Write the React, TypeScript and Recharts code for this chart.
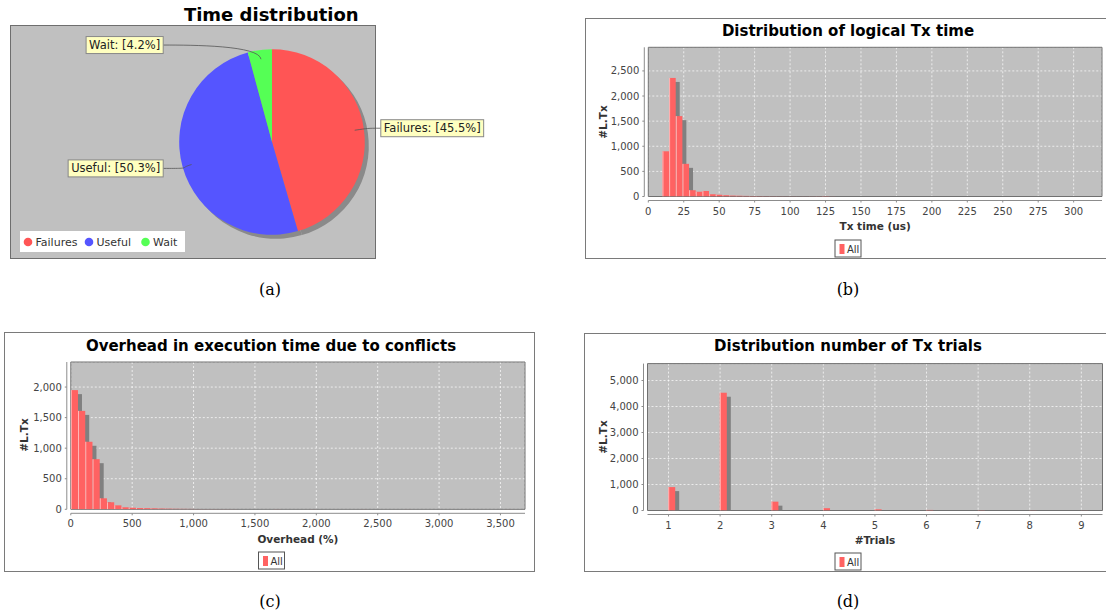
import React from "react";
import {
  Bar,
  BarChart,
  CartesianGrid,
  Cell,
  Pie,
  PieChart,
  ReferenceArea,
  XAxis,
  YAxis,
} from "recharts";

// (a) time distribution
const timeNames = ["Failures", "Useful", "Wait"];
const timeShares = [45.5, 50.3, 4.2];
const timeColors = ["#ff5555", "#5555ff", "#55ff55"];

// (b) logical Tx time histogram
const txTimeBins = [10, 14.7, 19.4, 24.1, 28.8, 33.5, 38.2, 42.9, 47.6, 52.3, 57, 61.7, 66.4, 71.1, 75.8, 80.5, 85.2, 89.9, 94.6, 99.3, 104, 108.7, 113.4, 118.1, 122.8, 127.5];
const txTimeCounts = [900, 2360, 1600, 650, 125, 95, 110, 45, 35, 25, 18, 15, 12, 10, 8, 6, 5, 4, 3, 3, 2, 2, 3, 4, 8, 2];
const txTimeTicks = [0, 25, 50, 75, 100, 125, 150, 175, 200, 225, 250, 275, 300];
const txCountTicks = [0, 500, 1000, 1500, 2000, 2500];

// (c) overhead histogram
const overheadBins = [0, 59, 118, 177, 236, 295, 354, 413, 472, 531, 590, 649, 708, 767, 826, 885, 944, 1003, 1062, 1121, 1180, 1239, 1298, 1652, 1947, 2360, 2714, 3540];
const overheadCounts = [1950, 1610, 1105, 820, 180, 115, 65, 33, 26, 20, 18, 15, 12, 10, 8, 7, 6, 5, 4, 4, 3, 3, 2, 3, 2, 2, 1, 1];
const overheadTicks = [0, 500, 1000, 1500, 2000, 2500, 3000, 3500];
const overheadCountTicks = [0, 500, 1000, 1500, 2000];

// (d) number of trials
const trials = [1, 2, 3, 4, 5, 6, 7, 8, 9];
const trialCounts = [900, 4530, 340, 88, 45, 22, 12, 8, 5];
const trialCountTicks = [0, 1000, 2000, 3000, 4000, 5000];

const SANS = "'DejaVu Sans', sans-serif";
const fmt = (v: number) => v.toLocaleString("en-US");

let ctx: CanvasRenderingContext2D | null = null;
function textWidth(s: string, font: string) {
  if (!ctx) ctx = document.createElement("canvas").getContext("2d");
  if (!ctx) return s.length * 6;
  ctx.font = font;
  return ctx.measureText(s).width;
}

// JFreeChart-like bar: starts at the bin value, with a grey drop shadow
const HistBar = (props: any) => {
  const { x, y, width, height } = props;
  if (!height || height <= 0) return null;
  const left = x + width / 2;
  return (
    <g>
      <rect x={left + 4} y={y + 4} width={width} height={Math.max(0, height - 4)} fill="#808080" />
      <rect x={left} y={y} width={width} height={height} fill="#ff6262" />
      <rect x={left} y={y} width={1} height={height} fill="#ffb8b8" />
    </g>
  );
};

const renderPieLabel = (p: any) => {
  const { cx, cy, midAngle, outerRadius, name, percent } = p;
  const rad = (-midAngle * Math.PI) / 180;
  const cos = Math.cos(rad);
  const sin = Math.sin(rad);
  const ax = cx + outerRadius * 0.9 * cos;
  const ay = cy + outerRadius * 0.9 * sin;
  const text = `${name}: [${(percent * 100).toFixed(1)}%]`;
  const w = textWidth(text, `11.5px ${SANS}`) + 6;
  const h = 17;
  const right = cos >= 0;
  const boxY = cy + sin * (outerRadius + 5) - h / 2;
  const boxX = right ? cx + outerRadius + 16 : cx - outerRadius - 16 - w;
  const ex = right ? boxX : boxX + w;
  const ey = boxY + h / 2;
  const c2x = right ? ex - 14 : ex + 30;
  return (
    <g>
      <path
        d={`M${ax},${ay} C${ax + cos * 14},${ay + sin * 14} ${c2x},${ey} ${ex},${ey}`}
        fill="none"
        stroke="#555"
        strokeWidth={0.8}
      />
      <rect x={boxX} y={boxY} width={w} height={h} fill="#ffffc0" stroke="#888" strokeWidth={1} />
      <text x={boxX + 3} y={ey} dominantBaseline="central" fontSize={11.5} fontFamily={SANS} fill="#222">
        {text}
      </text>
    </g>
  );
};

type Box = { l: number; t: number; w: number; h: number };
type Plot = { l: number; t: number; r: number; b: number };

function Histogram(props: {
  box: Box;
  plot: Plot;
  data: { x: number; n: number }[];
  xDomain: [number, number];
  yDomain: [number, number];
  xTicks: number[];
  yTicks: number[];
  barSize: number;
}) {
  const { box, plot, data, xDomain, yDomain, xTicks, yTicks, barSize } = props;
  const tickStyle = { fill: "#444", fontSize: 10, fontFamily: SANS };
  return (
    <div style={{ position: "absolute", left: box.l, top: box.t }}>
      <BarChart
        width={box.w}
        height={box.h}
        data={data}
        margin={{
          top: plot.t - box.t,
          right: box.l + box.w - plot.r,
          bottom: box.t + box.h - plot.b - 20,
          left: 0,
        }}
      >
        <CartesianGrid fill="#c0c0c0" stroke="#ffffff" strokeDasharray="2 2" strokeWidth={0.7} />
        <XAxis
          dataKey="x"
          type="number"
          domain={xDomain}
          ticks={xTicks}
          interval={0}
          allowDataOverflow
          height={20}
          tick={tickStyle}
          tickFormatter={fmt}
          tickSize={2}
          tickMargin={9}
          axisLine={{ stroke: "#8c8c8c", transform: "translate(0,4)" }}
          tickLine={{ stroke: "#8c8c8c", transform: "translate(0,4)" }}
        />
        <YAxis
          domain={yDomain}
          ticks={yTicks}
          interval={0}
          allowDataOverflow
          width={plot.l - box.l}
          tick={tickStyle}
          tickFormatter={fmt}
          tickSize={2}
          tickMargin={7}
          axisLine={{ stroke: "#8c8c8c", transform: "translate(-4,0)" }}
          tickLine={{ stroke: "#8c8c8c", transform: "translate(-4,0)" }}
        />
        <Bar dataKey="n" barSize={barSize} shape={HistBar} isAnimationActive={false} />
        <ReferenceArea
          x1={xDomain[0]}
          x2={xDomain[1]}
          y1={yDomain[0]}
          y2={yDomain[1]}
          fill="none"
          fillOpacity={0}
          stroke="#707070"
          strokeWidth={1}
        />
      </BarChart>
    </div>
  );
}

function PanelFrame({ box }: { box: Box }) {
  return (
    <div
      style={{
        position: "absolute",
        left: box.l,
        top: box.t,
        width: box.w,
        height: box.h,
        boxSizing: "border-box",
        border: "1px solid #7a7a7a",
        background: "#fff",
      }}
    />
  );
}

function AllLegend({ cx, top }: { cx: number; top: number }) {
  return (
    <g>
      <rect x={cx - 13} y={top} width={26} height={17} fill="#fff" stroke="#555" strokeWidth={1} />
      <rect x={cx - 8.5} y={top + 4} width={5} height={10} fill="#ff6262" />
      <text x={cx - 1} y={top + 9} dominantBaseline="central" fontSize={10} fontFamily={SANS} fill="#333">
        All
      </text>
    </g>
  );
}

export default function App() {
  const pieData = timeNames.map((name, i) => ({ name, value: timeShares[i] }));
  const txData = txTimeBins.map((x, i) => ({ x, n: txTimeCounts[i] }));
  const ohData = overheadBins.map((x, i) => ({ x, n: overheadCounts[i] }));
  const trialData = trials.map((x, i) => ({ x, n: trialCounts[i] }));

  const boxB = { l: 585, t: 18, w: 526, h: 241 };
  const plotB = { l: 648.3, t: 47.3, r: 1102, b: 196.5 };
  const boxC = { l: 4, t: 332, w: 531, h: 240 };
  const plotC = { l: 70.8, t: 362, r: 525, b: 509.3 };
  const boxD = { l: 584, t: 333, w: 527, h: 239 };
  const plotD = { l: 647.5, t: 363.6, r: 1102.5, b: 510.5 };

  const axisLabel = { fontSize: 10.5, fontWeight: 700, fontFamily: SANS, fill: "#333" };
  const titleStyle = { fontSize: 15, fontWeight: 700, fontFamily: SANS, fill: "#000" };
  const caption = { fontSize: 16, fontFamily: "'DejaVu Serif', serif", fill: "#000" };

  return (
    <div
      style={{
        position: "absolute",
        left: 0,
        top: 0,
        width: 1106,
        height: 616,
        overflow: "hidden",
        background: "#fff",
      }}
    >
      {/* (a) pie */}
      <div
        style={{
          position: "absolute",
          left: 10,
          top: 25,
          width: 366,
          height: 234,
          boxSizing: "border-box",
          background: "#c0c0c0",
          border: "1px solid #6e6e6e",
        }}
      />
      <div style={{ position: "absolute", left: 0, top: 0 }}>
        <PieChart width={520} height={260} margin={{ top: 0, right: 0, bottom: 0, left: 0 }}>
          <Pie
            data={pieData}
            dataKey="value"
            cx={276}
            cy={146}
            outerRadius={92.8}
            startAngle={90}
            endAngle={-270}
            fill="#8a8a8a"
            stroke="none"
            isAnimationActive={false}
          />
          <Pie
            data={pieData}
            dataKey="value"
            nameKey="name"
            cx={272}
            cy={142}
            outerRadius={92.8}
            startAngle={90}
            endAngle={-270}
            stroke="none"
            label={renderPieLabel}
            labelLine={false}
            isAnimationActive={false}
          >
            {pieData.map((d, i) => (
              <Cell key={d.name} fill={timeColors[i]} />
            ))}
          </Pie>
        </PieChart>
      </div>

      <PanelFrame box={boxB} />
      <PanelFrame box={boxC} />
      <PanelFrame box={boxD} />

      <Histogram
        box={boxB}
        plot={plotB}
        data={txData}
        xDomain={[0, 320]}
        yDomain={[0, 2970]}
        xTicks={txTimeTicks}
        yTicks={txCountTicks}
        barSize={6.6}
      />
      <Histogram
        box={boxC}
        plot={plotC}
        data={ohData}
        xDomain={[0, 3700]}
        yDomain={[0, 2410]}
        xTicks={overheadTicks}
        yTicks={overheadCountTicks}
        barSize={7.2}
      />
      <Histogram
        box={boxD}
        plot={plotD}
        data={trialData}
        xDomain={[0.593, 9.41]}
        yDomain={[0, 5650]}
        xTicks={trials}
        yTicks={trialCountTicks}
        barSize={7}
      />

      <svg
        width={1106}
        height={616}
        style={{ position: "absolute", left: 0, top: 0, pointerEvents: "none" }}
      >
        <text x={271.3} y={14} textAnchor="middle" dominantBaseline="central" fontSize={18} fontWeight={700} fontFamily={SANS}>
          Time distribution
        </text>
        {/* pie legend */}
        <rect x={20} y={231} width={165} height={21} fill="#fff" />
        {timeNames.map((n, i) => {
          const xs = [28, 89, 145.5];
          return (
            <g key={n}>
              <circle cx={xs[i]} cy={242} r={4.3} fill={timeColors[i]} />
              <text x={xs[i] + 7.5} y={242} dominantBaseline="central" fontSize={11} fontFamily={SANS} fill="#333">
                {n}
              </text>
            </g>
          );
        })}

        <text x={848} y={31} textAnchor="middle" dominantBaseline="central" {...titleStyle}>
          Distribution of logical Tx time
        </text>
        <text x={271} y={345.5} textAnchor="middle" dominantBaseline="central" {...titleStyle}>
          Overhead in execution time due to conflicts
        </text>
        <text x={848} y={346} textAnchor="middle" dominantBaseline="central" {...titleStyle}>
          Distribution number of Tx trials
        </text>

        <text x={(plotB.l + plotB.r) / 2} y={plotB.b + 29.5} textAnchor="middle" dominantBaseline="central" {...axisLabel}>
          Tx time (us)
        </text>
        <text x={(plotC.l + plotC.r) / 2} y={plotC.b + 29.5} textAnchor="middle" dominantBaseline="central" {...axisLabel}>
          Overhead (%)
        </text>
        <text x={(plotD.l + plotD.r) / 2} y={plotD.b + 29.5} textAnchor="middle" dominantBaseline="central" {...axisLabel}>
          #Trials
        </text>

        <text x={603} y={122} transform="rotate(-90 603 122)" textAnchor="middle" dominantBaseline="central" {...axisLabel}>
          #L.Tx
        </text>
        <text x={24} y={435} transform="rotate(-90 24 435)" textAnchor="middle" dominantBaseline="central" {...axisLabel}>
          #L.Tx
        </text>
        <text x={603} y={437} transform="rotate(-90 603 437)" textAnchor="middle" dominantBaseline="central" {...axisLabel}>
          #L.Tx
        </text>

        <AllLegend cx={848} top={240} />
        <AllLegend cx={271.5} top={552} />
        <AllLegend cx={848} top={553} />

        <text x={270} y={289} textAnchor="middle" dominantBaseline="central" {...caption}>(a)</text>
        <text x={848} y={289} textAnchor="middle" dominantBaseline="central" {...caption}>(b)</text>
        <text x={270} y={601} textAnchor="middle" dominantBaseline="central" {...caption}>(c)</text>
        <text x={848} y={601} textAnchor="middle" dominantBaseline="central" {...caption}>(d)</text>
      </svg>
    </div>
  );
}
